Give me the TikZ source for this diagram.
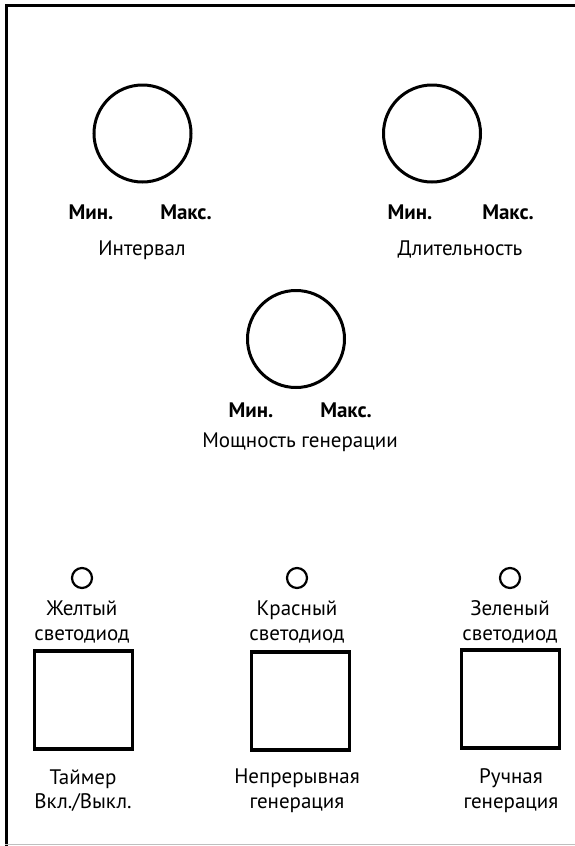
\documentclass[tikz,border=0pt]{standalone}
\usepackage{fontspec}
\setmainfont{PT Sans}
\begin{document}
\begin{tikzpicture}[x=1pt,y=-1pt,
  knob/.style={draw,line width=3pt,circle,minimum size=97pt,inner sep=0pt},
  led/.style={draw,line width=2.2pt,circle,minimum size=20pt,inner sep=0pt},
  btn/.style={draw,line width=3.8pt,rectangle,minimum size=98pt,inner sep=0pt},
  lbl/.style={font=\fontsize{21}{24.5}\selectfont,align=center,inner sep=0pt},
  mm/.style={font=\fontsize{21}{24.5}\selectfont\bfseries,inner sep=0pt}]
\useasboundingbox (0,0) rectangle (575,846);
% frame
\draw[line width=3.5pt] (575,5.5) -- (6.5,5.5) -- (6.5,846);
\draw[line width=1pt,black!25] (5,844.5) -- (575,844.5);
% knobs
\node[knob] (k1) at (142.5,133.5) {};
\node[knob] (k2) at (432,133.5) {};
\node[knob] (k3) at (296,339) {};
\node[mm] (k1min) at (91,212) {Мин.};
\node[mm] (k1max) at (186,212) {Макс.};
\node[lbl] (k1l) at (142,250) {Интервал};
\node[mm] (k2min) at (410,212) {Мин.};
\node[mm] (k2max) at (508,212) {Макс.};
\node[lbl] (k2l) at (460,250) {Длительность};
\node[mm] (k3min) at (251,410) {Мин.};
\node[mm] (k3max) at (346,410) {Макс.};
\node[lbl] (k3l) at (300,442) {Мощность генерации};
% LEDs
\node[led] (l1) at (82,578) {};
\node[led] (l2) at (297,578) {};
\node[led] (l3) at (510,578) {};
\node[lbl] (l1t) at (82,622) {Желтый\\светодиод};
\node[lbl] (l2t) at (297,622) {Красный\\светодиод};
\node[lbl] (l3t) at (510,622) {Зеленый\\светодиод};
% buttons
\node[btn] (b1) at (83.5,700) {};
\node[btn] (b2) at (300.5,701) {};
\node[btn] (b3) at (510.5,699) {};
\node[lbl] (b1t) at (83,790.5) {Таймер\\Вкл./Выкл.};
\node[lbl] (b2t) at (297,790.5) {Непрерывная\\генерация};
\node[lbl] (b3t) at (511,790.5) {Ручная\\генерация};
\end{tikzpicture}
\end{document}
